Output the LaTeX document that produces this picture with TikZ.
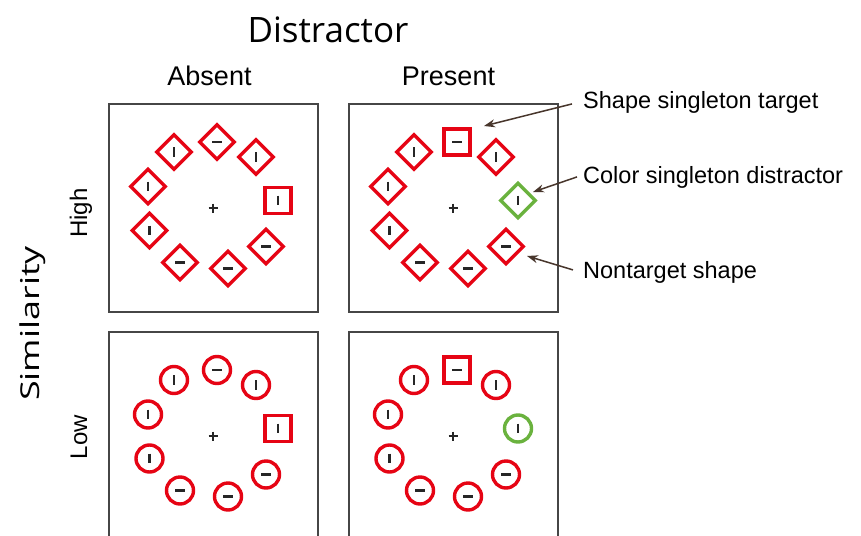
\documentclass[tikz,border=0pt]{standalone}
\usepackage{graphicx}
\usepackage{fontspec}
\setmainfont{Liberation Sans}
\newfontfamily\titlefont{Open Sans}
\usetikzlibrary{shapes.geometric,arrows.meta}
\definecolor{stimred}{RGB}{230,4,20}
\definecolor{stimgreen}{RGB}{106,178,62}
\definecolor{arrowbrown}{RGB}{72,54,44}
\definecolor{framegray}{RGB}{70,70,70}
\tikzset{
  dia/.style={shape=diamond, draw, line width=3.4pt, minimum width=36pt, minimum height=36pt, inner sep=0pt},
  sq/.style={shape=rectangle, draw, line width=3.4pt, minimum size=26pt, inner sep=0pt},
  circ/.style={shape=circle, draw, line width=3.4pt, minimum size=27pt, inner sep=0pt},
  vmark/.pic={\draw[line width=2.6pt, black!85] (0,-4.8) -- (0,4.8);},
  hmark/.pic={\draw[line width=2.6pt, black!85] (-4.8,0) -- (4.8,0);},
  fixmark/.pic={\draw[line width=1.5pt, black!85] (-4.5,0) -- (4.5,0) (0,-4.5) -- (0,4.5);},
  frame/.style={draw=framegray, line width=1.2pt},
  arr/.style={draw=arrowbrown, line width=1.5pt, -{Stealth[length=11pt,width=8pt]}},
  lab/.style={font=\fontsize{23.5}{28}\selectfont, anchor=base west, inner sep=0pt},
  colhead/.style={font=\fontsize{27}{30}\selectfont, anchor=base, inner sep=0pt},
  rowhead/.style={font=\fontsize{24}{28}\selectfont, anchor=base, rotate=90, inner sep=0pt},
}
% #1 prefix, #2 centre, #3 base style, #4 top style, #5 right style
\newcommand\stimring[5]{%
  \coordinate (#1c) at #2;
  \pic at (#1c) {fixmark};
  \node[#4] (#1t) at ([shift={(4,-66)}]#1c) {}; \pic at (#1t) {hmark};
  \node[#3] (#1ul) at ([shift={(-39,-56)}]#1c) {}; \pic at (#1ul) {vmark};
  \node[#3] (#1ur) at ([shift={(43,-51)}]#1c) {}; \pic at (#1ur) {vmark};
  \node[#3] (#1lu) at ([shift={(-65,-21.5)}]#1c) {}; \pic at (#1lu) {vmark};
  \node[#5] (#1r) at ([shift={(65,-7.5)}]#1c) {}; \pic at (#1r) {vmark};
  \node[#3] (#1ll) at ([shift={(-63.5,22.5)}]#1c) {}; \pic at (#1ll) {vmark};
  \node[#3] (#1bl) at ([shift={(-33,54.5)}]#1c) {}; \pic at (#1bl) {hmark};
  \node[#3] (#1b) at ([shift={(15,60.5)}]#1c) {}; \pic at (#1b) {hmark};
  \node[#3] (#1br) at ([shift={(53,38.5)}]#1c) {}; \pic at (#1br) {hmark};
}
\begin{document}
\begin{tikzpicture}[x=1pt,y=-1pt]
\useasboundingbox[fill=white] (0,0) rectangle (861,535);

% panel frames
\draw[frame] (109,104) rectangle (318,312);
\draw[frame] (349,104) rectangle (558,312);
\draw[frame] (109,540) -- (109,332) -- (318,332) -- (318,540);
\draw[frame] (349,540) -- (349,332) -- (558,332) -- (558,540);

% stimuli
\stimring{p1}{(213,208)}{dia,draw=stimred}{dia,draw=stimred}{sq,draw=stimred}
\stimring{p2}{(453,208)}{dia,draw=stimred}{sq,draw=stimred}{dia,draw=stimgreen}
\stimring{p3}{(213,436)}{circ,draw=stimred}{circ,draw=stimred}{sq,draw=stimred}
\stimring{p4}{(453,436)}{circ,draw=stimred}{sq,draw=stimred}{circ,draw=stimgreen}

% headings
\node[font=\titlefont\fontsize{35}{40}\selectfont, anchor=base, inner sep=0pt] (title) at (328,42) {Distractor};
\node[colhead] (absent) at (209.5,85) {Absent};
\node[colhead] (present) at (448.5,85) {Present};
\node[font=\titlefont\fontsize{26}{30}\selectfont, anchor=base, rotate=90, inner sep=0pt] (simil) at (39,323.5) {\scalebox{1.38}[1]{Similarity}};
\node[rowhead] (high) at (87,213) {High};
\node[rowhead] (low) at (87,437) {Low};

% annotations
\node[lab] (lab1) at (583,108) {Shape singleton target};
\node[lab] (lab2) at (583,183) {Color singleton distractor};
\node[lab] (lab3) at (583,278) {Nontarget shape};
\coordinate (tip1) at (484,126);
\coordinate (tip2) at (533,192);
\coordinate (tip3) at (527,256);
\draw[arr] ([xshift=-11pt,yshift=-2pt]lab1.west) -- (tip1);
\draw[arr] ([xshift=-6pt]lab2.west) -- (tip2);
\draw[arr] ([xshift=-10pt,yshift=2pt]lab3.west) -- (tip3);
\end{tikzpicture}
\end{document}
